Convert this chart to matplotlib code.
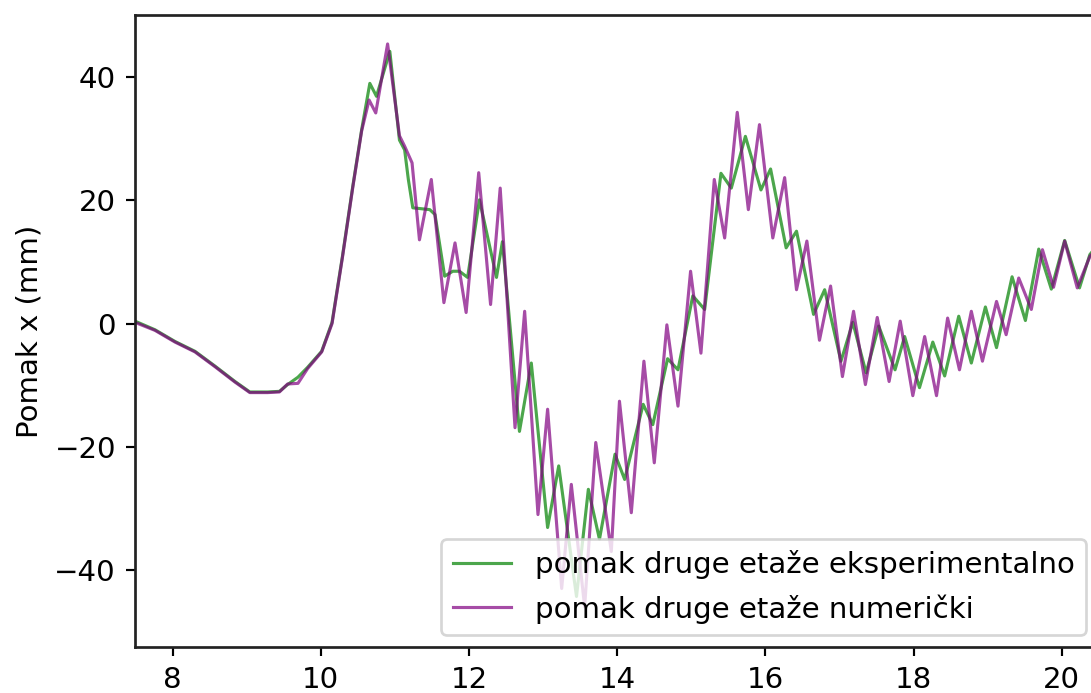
import matplotlib
matplotlib.use("Agg")
import matplotlib.pyplot as plt

# vrijeme (s) i pomak (mm) druge etaže - eksperiment
t_eksp = [7.49, 7.76, 8.03, 8.30, 8.57, 8.84, 9.04, 9.28, 9.44, 9.55, 9.69, 9.82,
          10.01, 10.15, 10.29, 10.43, 10.55, 10.66, 10.75, 10.93, 11.06, 11.13, 11.18,
          11.24, 11.47, 11.54, 11.67, 11.78, 11.87, 11.98, 12.14, 12.37, 12.45, 12.68,
          12.84, 13.06, 13.21, 13.45, 13.61, 13.76, 13.97, 14.10, 14.35, 14.48, 14.68,
          14.82, 15.02, 15.18, 15.40, 15.54, 15.73, 15.94, 16.07, 16.28, 16.42, 16.65,
          16.80, 17.02, 17.18, 17.36, 17.53, 17.75, 17.88, 18.08, 18.26, 18.42, 18.61,
          18.78, 18.97, 19.12, 19.33, 19.51, 19.69, 19.86, 20.04, 20.24, 20.38, 20.50]
x_eksp = [0.4, -1.0, -2.9, -4.5, -6.9, -9.4, -11.1, -11.1, -11.0, -9.9, -8.7, -7.1,
          -4.5, 0.2, 10.9, 22.3, 31.5, 39.0, 36.9, 44.2, 29.8, 28.2, 23.4,
          18.8, 18.5, 17.7, 7.7, 8.5, 8.5, 7.5, 20.1, 7.5, 13.3, -17.5,
          -6.4, -33.1, -23.1, -44.3, -26.9, -35.0, -21.2, -25.3, -13.1, -16.4, -5.7,
          -7.5, 4.5, 2.3, 24.4, 22.0, 30.4, 21.7, 25.1, 12.3, 15.0, 1.5,
          5.5, -6.1, 0.2, -8.0, -0.4, -7.5, -2.1, -10.4, -3.0, -8.5, 1.2,
          -6.4, 2.7, -3.9, 7.6, 0.5, 12.1, 5.6, 13.5, 5.8, 11.2, 13.0]

# numerički model
t_num = [7.49, 7.76, 8.03, 8.30, 8.57, 8.84, 9.04, 9.28, 9.44, 9.55, 9.69, 9.82,
         10.01, 10.15, 10.29, 10.43, 10.55, 10.65, 10.74, 10.90, 11.06, 11.13, 11.23,
         11.33, 11.49, 11.66, 11.81, 11.96, 12.13, 12.29, 12.42, 12.62, 12.75, 12.93,
         13.06, 13.25, 13.38, 13.56, 13.71, 13.92, 14.03, 14.19, 14.36, 14.50, 14.67,
         14.82, 14.99, 15.13, 15.31, 15.45, 15.62, 15.77, 15.92, 16.10, 16.26, 16.42,
         16.56, 16.73, 16.88, 17.04, 17.19, 17.35, 17.51, 17.67, 17.82, 17.99, 18.15,
         18.31, 18.46, 18.62, 18.78, 18.93, 19.12, 19.25, 19.42, 19.59, 19.74, 19.89,
         20.04, 20.21, 20.38, 20.50]
x_num = [0.2, -1.1, -3.0, -4.6, -7.0, -9.5, -11.2, -11.2, -11.1, -9.8, -9.7, -7.3,
         -4.6, 0.0, 10.7, 22.1, 31.3, 36.3, 34.2, 45.4, 30.5, 28.8, 26.1,
         13.6, 23.4, 3.4, 13.1, 1.8, 24.5, 3.1, 22.0, -16.9, 2.0, -31.0,
         -13.9, -43.0, -26.1, -46.0, -19.3, -37.0, -12.6, -30.7, -6.1, -22.6, -0.2,
         -13.4, 8.5, -4.8, 23.4, 13.9, 34.3, 18.5, 32.3, 13.9, 23.7, 5.5,
         13.4, -2.7, 6.1, -8.6, 2.0, -9.9, 1.0, -9.4, 0.4, -11.7, -2.1,
         -11.7, 0.9, -7.5, 2.0, -6.1, 3.6, -1.8, 7.4, 2.3, 12.0, 5.9,
         13.4, 5.8, 10.9, 12.5]

plt.rcParams["font.size"] = 10.8
plt.rcParams["axes.edgecolor"] = "#222222"
plt.rcParams["axes.linewidth"] = 1.0

dpi = 195
fig = plt.figure(figsize=(1091 / dpi, 693 / dpi), dpi=dpi)
ax = fig.add_axes([135 / 1091, 46 / 693, 963 / 1091, 632 / 693])

ax.plot(t_eksp, x_eksp, color="green", alpha=0.7, lw=1.15,
        label="pomak druge etaže eksperimentalno")
ax.plot(t_num, x_num, color="purple", alpha=0.7, lw=1.15,
        label="pomak druge etaže numerički")

ax.set_xlim(7.49, 20.49)
ax.set_ylim(-52.5, 50.1)
ax.set_ylabel("Pomak x (mm)")
ax.legend(loc="lower right", borderaxespad=0.4)

fig.savefig("out.png", dpi=dpi)
